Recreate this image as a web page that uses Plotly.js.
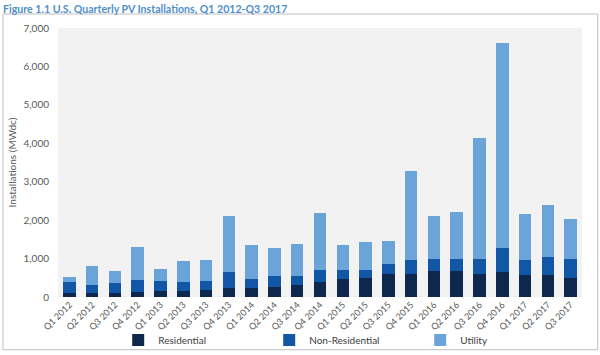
<!DOCTYPE html>
<html>
<head>
<meta charset="utf-8">
<script src="https://cdn.plot.ly/plotly-3.0.1.min.js"></script>
<style>
html,body{margin:0;padding:0;background:#fff;}
#chart{width:600px;height:355px;}
</style>
</head>
<body>
<div id="chart"></div>
<script>
const quarters = ["Q1 2012","Q2 2012","Q3 2012","Q4 2012","Q1 2013","Q2 2013","Q3 2013","Q4 2013",
  "Q1 2014","Q2 2014","Q3 2014","Q4 2014","Q1 2015","Q2 2015","Q3 2015","Q4 2015",
  "Q1 2016","Q2 2016","Q3 2016","Q4 2016","Q1 2017","Q2 2017","Q3 2017"];
const residential    = [100,100,100,130,150,160,180,240,230,260,300,380,470,500,590,600,680,680,600,640,560,560,490];
const nonResidential = [280,200,260,320,260,220,230,410,250,290,240,330,240,210,280,350,310,320,400,640,410,470,490];
const utility        = [150,500,320,850,320,560,540,1450,870,720,840,1480,640,730,580,2340,1110,1200,3150,5340,1200,1370,1040];
const yTicks = [0,1000,2000,3000,4000,5000,6000,7000];

const font = "Lato, 'Open Sans', sans-serif";
const traces = [
  {name:"Residential", x:quarters, y:residential, type:"bar", marker:{color:"#0e284d"}},
  {name:"Non-Residential", x:quarters, y:nonResidential, type:"bar", marker:{color:"#1257a6"}},
  {name:"Utility", x:quarters, y:utility, type:"bar", marker:{color:"#6aa4d9"}}
];
const layout = {
  width:600, height:355,
  barmode:"stack", bargap:0.45,
  paper_bgcolor:"#ffffff", plot_bgcolor:"#f2f2f2",
  margin:{l:58, r:18, t:28, b:58},
  font:{family:font, color:"#595959", size:10},
  title:{text:"<b>Figure 1.1 U.S. Quarterly PV Installations, Q1 2012-Q3 2017</b>",
    x:0.005, xanchor:"left", y:0.975, yanchor:"middle", font:{family:font, size:10.6, color:"#4f8fcc"}},
  xaxis:{tickangle:-45, tickfont:{size:9, color:"#595959"}, showgrid:false, zeroline:false, showline:false,
    ticks:"", automargin:false},
  yaxis:{range:[0,7000], tickvals:yTicks, tickformat:",d", showgrid:false, zeroline:false, showline:false,
    ticks:"", tickfont:{size:10, color:"#595959"}, ticklen:0, ticklabelstandoff:8,
    title:{text:"Installations (MWdc)", font:{size:10, color:"#595959"}, standoff:5}, automargin:false},
  legend:{orientation:"h", xref:"container", yref:"container", x:0.197, xanchor:"left", y:0.042, yanchor:"middle",
    entrywidth:106, entrywidthmode:"pixels", itemwidth:30, bgcolor:"rgba(0,0,0,0)",
    font:{size:10, color:"#404040"}, traceorder:"normal"},
  shapes:[
    {type:"rect", xref:"paper", yref:"paper", x0:-0.105, x1:1.03, y0:-0.196, y1:1.052,
     line:{color:"#bfbfbf", width:1}, fillcolor:"rgba(0,0,0,0)", layer:"below"}
  ]
};
Plotly.newPlot("chart", traces, layout, {displayModeBar:false, staticPlot:true});
</script>
</body>
</html>
